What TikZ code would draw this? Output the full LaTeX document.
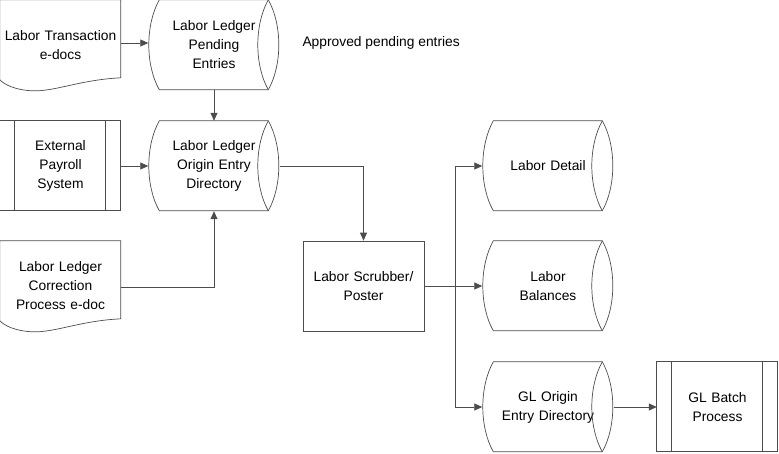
\documentclass[tikz,border=0pt]{standalone}
\usepackage{fontspec}
\setmainfont{Liberation Sans}
\usetikzlibrary{arrows.meta}
\begin{document}
\begin{tikzpicture}[x=1pt,y=1pt,
  every node/.style={font=\fontsize{13.8}{19}\selectfont},
  box/.style={minimum width=121pt,minimum height=90pt,inner sep=0pt,align=center,text width=119pt},
  cyl/.style={minimum width=131pt,minimum height=90pt,inner sep=0pt,align=center,text width=110pt},
  ln/.style={draw=black!70,line width=0.7pt},
  arr/.style={ln,-{Triangle[length=8pt,width=7pt]}}]
\newcommand\mydoc[1]{\begin{scope}[shift={(#1.north west)}]
  \draw[ln] (0,0) -- (121,0) -- (121,-78) .. controls (80,-80) and (55,-92) .. (32,-91) .. controls (15,-90) and (5,-85) .. (0,-80) -- cycle;\end{scope}}
\newcommand\mycyl[1]{\begin{scope}[shift={(#1.north west)}]
  \draw[ln] (11,0) -- (120,0) .. controls (134,-25) and (134,-65) .. (120,-90) -- (11,-90) .. controls (-3,-65) and (-3,-25) .. cycle;
  \draw[ln] (120,0) .. controls (106,-25) and (106,-65) .. (120,-90);\end{scope}}
\newcommand\mypre[1]{\begin{scope}[shift={(#1.north west)}]
  \draw[ln] (0,0) rectangle (121,-90); \draw[ln] (15,0) -- (15,-90) (106,0) -- (106,-90);\end{scope}}
\useasboundingbox (0,0) rectangle (779,-453);
\node[box] (doc1) at (60.5,-45) {Labor Transaction\\e-docs\\[10pt]};
\node[cyl] (pend) at (214,-45) {Labor Ledger\\Pending\\Entries};
\node[anchor=west] (appr) at (299,-43) {Approved pending entries};
\node[box] (ext) at (60.5,-166) {External\\Payroll\\System};
\node[cyl] (orig) at (214,-166) {Labor Ledger\\Origin Entry\\Directory};
\node[box] (doc2) at (60.5,-286) {Labor Ledger\\Correction\\Process e-doc\\[6pt]};
\node[box,draw=black!70,line width=0.7pt] (scr) at (363.5,-286) {Labor Scrubber/\\Poster};
\node[cyl] (det) at (548,-166) {Labor Detail};
\node[cyl] (bal) at (548,-286) {Labor\\Balances};
\node[cyl] (glo) at (548,-407) {GL Origin\\Entry Directory};
\node[box] (glb) at (717.5,-407) {GL Batch\\Process};
\mydoc{doc1}\mydoc{doc2}
\begin{scope}[shift={(3.5,0)}]\end{scope}
\mycyl{pend}\mycyl{orig}\mycyl{det}\mycyl{bal}\mycyl{glo}\mypre{ext}\mypre{glb}
\coordinate (j) at (455,-286);
\draw[arr] (doc1.east|-0,-43) -- (pend.west|-0,-43);
\draw[arr] (pend.south) -- (orig.north);
\draw[arr] (ext.east) -- (orig.west);
\draw[arr] (doc2.east|-0,-287) -| (orig.south);
\draw[arr] (orig.east) -| (scr.north);
\draw[ln] (scr.east) -- (j);
\draw[arr] (j) |- (det.west);
\draw[arr] (j) -- (bal.west);
\draw[arr] (j) |- (glo.west);
\draw[arr] (glo.east) -- (glb.west);
\end{tikzpicture}
\end{document}
